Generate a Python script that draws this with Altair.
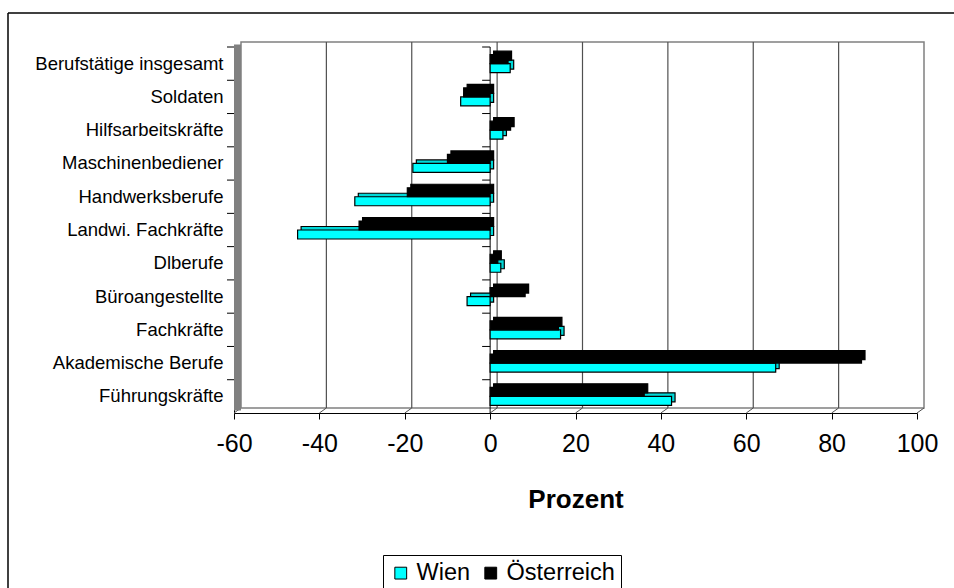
import altair as alt
import pandas as pd

# Occupational groups (top to bottom) and change in percent
categories = [
    "Berufstätige insgesamt", "Soldaten", "Hilfsarbeitskräfte", "Maschinenbediener",
    "Handwerksberufe", "Landwi. Fachkräfte", "Dlberufe", "Büroangestellte",
    "Fachkräfte", "Akademische Berufe", "Führungskräfte",
]
wien = [4.7, -6.9, 3.0, -18.1, -31.7, -45.1, 2.5, -5.4, 16.5, 66.9, 42.5]
oesterreich = [4.2, -6.2, 4.8, -10.0, -19.4, -30.7, 1.8, 8.2, 16.0, 87.0, 36.1]
series = ["Wien", "Österreich"]
series_colors = ["#00FFFF", "#000000"]
x_ticks = [-60, -40, -20, 0, 20, 40, 60, 80, 100]

FONT = "Liberation Sans"
W, H = 683, 366                # front plane of the plot box
STEP = H / len(categories)
DX, DY = 7, 5                  # depth of the back wall in px
BDX, BDY = 3.5, 3.5            # depth of the bars in px
BAR_H = 9

df_w = pd.DataFrame({"category": categories, "series": "Wien", "value": wien})
df_o = pd.DataFrame({"category": categories, "series": "Österreich", "value": oesterreich})
df_ticks = pd.DataFrame({"value": x_ticks})
df_grid = pd.DataFrame({"value": x_ticks[1:-1]})
df_cat = pd.DataFrame({"category": categories})
one = alt.Data(values=[{"k": 0}])

x_scale = alt.Scale(domain=[-60, 100], nice=False, zero=False)
y_scale = alt.Scale(domain=categories, paddingInner=0, paddingOuter=0)

x_axis = alt.Axis(
    values=x_ticks, tickSize=6, tickColor="black", domainColor="black",
    labelFontSize=25, labelFont=FONT, labelColor="black", labelPadding=12,
    labelExpr="'' + datum.value", labelFlush=False, grid=False,
    title="Prozent", titleFontSize=26, titleFontWeight="bold", titleFont=FONT,
    titleColor="black", titlePadding=30,
)
y_axis = alt.Axis(
    title=None, ticks=False, domainColor="black", labelFontSize=18.5, labelFont=FONT,
    labelColor="black", labelPadding=11, labelLimit=300,
)
legend = alt.Legend(
    orient="none", legendX=149, legendY=508, direction="horizontal", title=None,
    symbolType="square", symbolSize=140, symbolStrokeColor="black", symbolStrokeWidth=1,
    labelFontSize=23.5, labelFont=FONT, labelColor="black", strokeColor="black",
    fillColor="white", padding=6, columnPadding=8, labelOffset=4,
)
color = alt.Color("series:N", scale=alt.Scale(domain=series, range=series_colors), legend=legend)


def xq(field="value"):
    return alt.X(f"{field}:Q", scale=x_scale, axis=x_axis)


def xd(v):
    return alt.X(datum=v, type="quantitative", scale=x_scale, axis=x_axis)


def yc():
    return alt.Y("category:N", scale=y_scale, axis=y_axis, sort=categories)


# outer frame of the chart object
frame_left = alt.Chart(one).mark_rule(color="black", strokeWidth=1.5).encode(
    x=alt.value(-226), y=alt.value(-34), y2=alt.value(H + 200))
frame_top = alt.Chart(one).mark_rule(color="black", strokeWidth=1.5).encode(
    x=alt.value(-226), x2=alt.value(W + 60), y=alt.value(-34))

# back wall, its gridlines and the floor
back_wall = alt.Chart(one).mark_rect(
    fill="white", stroke="#808080", strokeWidth=1.5, xOffset=DX, x2Offset=DX
).encode(x=xd(-60), x2=alt.X2(datum=100), y=alt.value(-DY), y2=alt.value(H - DY))
grid = alt.Chart(df_grid).mark_rule(color="#505050", strokeWidth=1.2, xOffset=DX).encode(
    x=xq(), y=alt.value(-DY), y2=alt.value(H - DY))
floor = alt.Chart(df_ticks).mark_rule(color="#505050", x2Offset=DX).encode(
    x=xq(), x2="value:Q", y=alt.value(H), y2=alt.value(H - DY))
side_wall = alt.Chart(one).mark_rule(color="#808080", strokeWidth=DX, xOffset=DX / 2).encode(
    x=xd(-60), y=alt.value(-DY / 2), y2=alt.value(H - DY / 2))

# category ticks on the left edge and on the zero line
left_ticks = alt.Chart(df_cat).mark_rule(color="black", yOffset=-STEP / 2).encode(
    x=alt.value(-7), x2=alt.value(0), y=yc())
zero_line = alt.Chart(one).mark_rule(color="black").encode(
    x=xd(0), y=alt.value(0), y2=alt.value(H))
zero_ticks = alt.Chart(df_cat).mark_rule(color="black", yOffset=-STEP / 2, xOffset=-8).encode(
    x=xd(0), x2=alt.X2(datum=0), y=yc())


def bars(df, off, depth_fill):
    depth = alt.Chart(df).mark_bar(
        height=BAR_H, yOffset=off - BDY, xOffset=BDX, x2Offset=BDX,
        fill=depth_fill, stroke="black", strokeWidth=1.2,
    ).encode(x=xq(), y=yc())
    front = alt.Chart(df).mark_bar(
        height=BAR_H, yOffset=off, stroke="black", strokeWidth=1.2, opacity=1,
    ).encode(x=xq(), y=yc(), color=color)
    return [depth, front]


layers = (
    [frame_left, frame_top, back_wall, grid, floor, side_wall, left_ticks, zero_line]
    + bars(df_w, 4.5, "#00D8D8")
    + bars(df_o, -4.5, "#000000")
    + [zero_ticks]
)

chart = alt.layer(*layers).properties(
    width=W, height=H,
    padding={"left": 234, "top": 47, "right": 954 - 234 - W, "bottom": 588 - 47 - H},
    autosize=alt.AutoSizeParams(type="none"),
    background="white",
).configure_view(stroke=None)

chart.save("out.html", embed_options={"renderer": "svg", "actions": False})
